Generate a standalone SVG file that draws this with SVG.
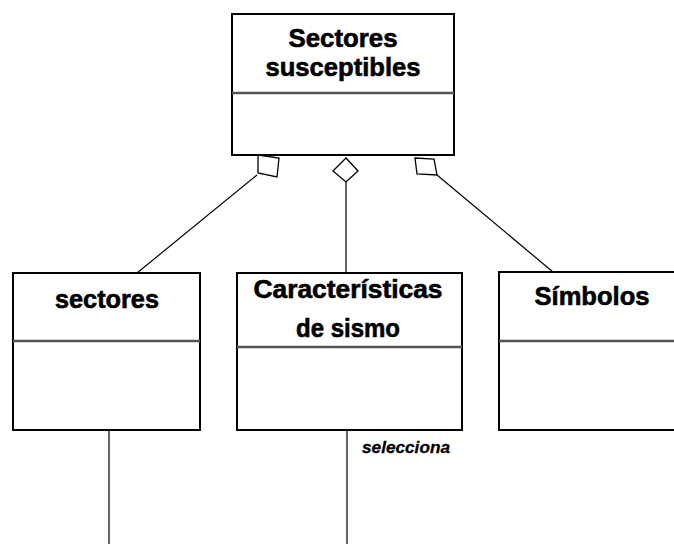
<svg xmlns="http://www.w3.org/2000/svg" width="674" height="544" viewBox="0 0 674 544">
<style>
.box{fill:#fff;stroke:#000;stroke-width:2}
.div{stroke:#555;stroke-width:2.5}
.t{font-family:"Liberation Sans",Arial,sans-serif;font-weight:bold;font-size:25px;fill:#000;stroke:#000;stroke-width:0.6;text-anchor:middle}
.ln{stroke:#000;stroke-width:1.2;fill:none}
.dia{fill:#fff;stroke:#000;stroke-width:1.3}
.lbl{font-family:"Liberation Sans",Arial,sans-serif;font-weight:bold;font-style:italic;font-size:17px;fill:#000;stroke:#000;stroke-width:0.3}
</style>
<rect width="674" height="544" fill="#fff"/>
<g id="connectors">
<line class="ln" x1="257" y1="175" x2="137" y2="273"/>
<line class="ln" x1="346" y1="182" x2="346" y2="273"/>
<line class="ln" x1="437" y1="175" x2="553" y2="272"/>
<line class="ln" x1="109" y1="430" x2="109" y2="544"/>
<line class="ln" x1="347" y1="430" x2="347" y2="544"/>
<polygon class="dia" points="258,155 279,158 277,177 258,173"/>
<polygon class="dia" points="346,158 358,171 346,182 333,171"/>
<polygon class="dia" points="415,158 434,159 437,175 417,174"/>
<text class="lbl" x="362" y="453" textLength="88" lengthAdjust="spacingAndGlyphs">selecciona</text>
</g>
<g id="sectores-susceptibles">
<rect class="box" x="232" y="14" width="222" height="141"/>
<line class="div" x1="232" y1="93" x2="454" y2="93"/>
<text class="t" x="343" y="47" textLength="109" lengthAdjust="spacingAndGlyphs">Sectores</text>
<text class="t" x="343" y="76" textLength="155" lengthAdjust="spacingAndGlyphs">susceptibles</text>
</g>
<g id="sectores">
<rect class="box" x="13" y="273" width="187" height="157"/>
<line class="div" x1="13" y1="341" x2="200" y2="341"/>
<text class="t" x="107" y="308" textLength="104" lengthAdjust="spacingAndGlyphs">sectores</text>
</g>
<g id="caracteristicas">
<rect class="box" x="237" y="273" width="225" height="157"/>
<line class="div" x1="237" y1="347" x2="462" y2="347"/>
<text class="t" x="348" y="298" textLength="189" lengthAdjust="spacingAndGlyphs">Características</text>
<text class="t" x="348" y="337" textLength="104" lengthAdjust="spacingAndGlyphs">de sismo</text>
</g>
<g id="simbolos">
<rect class="box" x="499" y="272" width="190" height="158"/>
<line class="div" x1="499" y1="341" x2="689" y2="341"/>
<text class="t" x="592" y="305" textLength="115" lengthAdjust="spacingAndGlyphs">Símbolos</text>
</g>
</svg>
